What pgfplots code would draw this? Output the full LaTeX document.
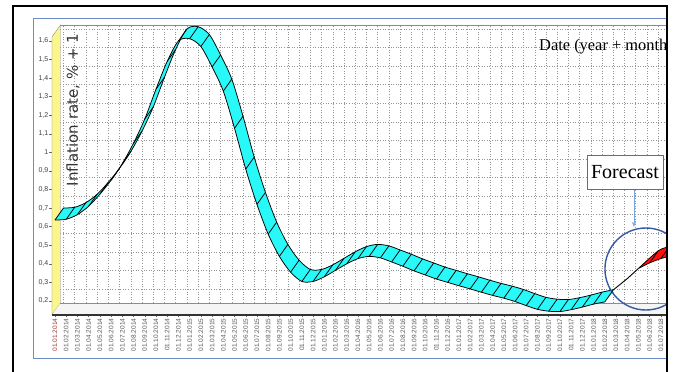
\documentclass[border=0pt]{standalone}
\usepackage{pgfplots}
\pgfplotsset{compat=1.18}
\usepackage{pgfplotstable}
\usetikzlibrary{arrows.meta}
\usepackage{fontspec}
\setmainfont{Liberation Serif}
\newfontfamily\dejavu{DejaVu Sans}
\newfontfamily\arial{Liberation Sans}
\definecolor{ribcyan}{RGB}{40,248,248}
\definecolor{ribred}{RGB}{255,16,16}
\definecolor{wallyellow}{RGB}{250,245,140}
\definecolor{frameblue}{RGB}{110,140,200}
\definecolor{circblue}{RGB}{55,90,165}
\definecolor{arrblue}{RGB}{120,165,220}
\definecolor{boxblue}{RGB}{80,110,170}
\definecolor{firstlab}{RGB}{150,60,50}

% depth segment of the 3D ribbon, drawn at each data point
\pgfdeclareplotmark{depthline}{%
  \pgfpathmoveto{\pgfqpoint{0pt}{0pt}}%
  \pgfpathlineto{\pgfqpoint{8.5pt}{12pt}}%
  \pgfusepathqstroke}

% ribbon: rows 0-49 front edge (month, value), rows 50-99 back edge (reversed)
\pgfplotstableread{
x y
0 0.636
1 0.640
2 0.665
3 0.710
4 0.775
5 0.850
6 0.940
7 1.050
8 1.180
9 1.340
10 1.490
11 1.600
12 1.612
13 1.570
14 1.460
15 1.330
16 1.130
17 0.910
18 0.720
19 0.560
20 0.440
21 0.355
22 0.305
23 0.305
24 0.330
25 0.365
26 0.400
27 0.428
28 0.440
29 0.432
30 0.410
31 0.387
32 0.362
33 0.340
34 0.318
35 0.300
36 0.282
37 0.265
38 0.247
39 0.230
40 0.215
41 0.197
42 0.175
43 0.155
44 0.145
45 0.143
46 0.153
47 0.167
48 0.183
49 0.195
49.7576 0.2596
48.7576 0.2476
47.7576 0.2316
46.7576 0.2176
45.7576 0.2076
44.7576 0.2096
43.7576 0.2196
42.7576 0.2396
41.7576 0.2616
40.7576 0.2796
39.7576 0.2946
38.7576 0.3116
37.7576 0.3296
36.7576 0.3466
35.7576 0.3646
34.7576 0.3826
33.7576 0.4046
32.7576 0.4266
31.7576 0.4516
30.7576 0.4746
29.7576 0.4966
28.7576 0.5046
27.7576 0.4926
26.7576 0.4646
25.7576 0.4296
24.7576 0.3946
23.7576 0.3696
22.7576 0.3696
21.7576 0.4196
20.7576 0.5046
19.7576 0.6246
18.7576 0.7846
17.7576 0.9746
16.7576 1.1946
15.7576 1.3946
14.7576 1.5246
13.7576 1.6346
12.7576 1.6766
11.7576 1.6646
10.7576 1.5546
9.7576 1.4046
8.7576 1.2446
7.7576 1.1146
6.7576 1.0046
5.7576 0.9146
4.7576 0.8396
3.7576 0.7746
2.7576 0.7296
1.7576 0.7046
0.7576 0.7006
}\ribbon

% forecast: rows 0-3 front edge, rows 4-7 back edge (reversed, starting at the fork)
\pgfplotstableread{
x y
52 0.375
53 0.405
54 0.428
55 0.445
55.7576 0.5096
54.7576 0.4926
53.7576 0.4696
52 0.375
}\forecast

\begin{document}
\begin{tikzpicture}
\fill[white] (-55pt,-33.9pt) rectangle (623pt,338.1pt);
% back wall grid
\begin{axis}[at={(5.47pt,35.10pt)}, anchor=south west,
  x=11.22pt, y=185.7pt,
  xmin=-0.27, xmax=53.79, ymin=0.1244, ymax=1.6214,
  xtick={0,...,54}, ytick={0.2,0.3,0.4,0.5,0.6,0.7,0.8,0.9,1.0,1.1,1.2,1.3,1.4,1.5,1.6},
  xticklabels={}, yticklabels={}, major tick length=0pt,
  axis line style={draw=none}, grid=major,
  grid style={black!42, line width=0.45pt, dash pattern=on 1pt off 1.6pt}]
\end{axis}
% main axis
\begin{axis}[at={(-3.03pt,23.10pt)}, anchor=south west,
  x=11.22pt, y=185.7pt,
  xmin=-0.27, xmax=54.545, ymin=0.1244, ymax=1.686,
  axis line style={draw=none},
  xtick pos=bottom, ytick pos=left,
  xtick={0,...,54},
  xticklabels={{\textcolor{firstlab}{01.01.2014}},01.02.2014,01.03.2014,01.04.2014,01.05.2014,01.06.2014,01.07.2014,01.08.2014,01.09.2014,01.10.2014,01.11.2014,01.12.2014,
    01.01.2015,01.02.2015,01.03.2015,01.04.2015,01.05.2015,01.06.2015,01.07.2015,01.08.2015,01.09.2015,01.10.2015,01.11.2015,01.12.2015,
    01.01.2016,01.02.2016,01.03.2016,01.04.2016,01.05.2016,01.06.2016,01.07.2016,01.08.2016,01.09.2016,01.10.2016,01.11.2016,01.12.2016,
    01.01.2017,01.02.2017,01.03.2017,01.04.2017,01.05.2017,01.06.2017,01.07.2017,01.08.2017,01.09.2017,01.10.2017,01.11.2017,01.12.2017,
    01.01.2018,01.02.2018,01.03.2018,01.04.2018,01.05.2018,01.06.2018,01.07.2018},
  ytick={0.2,0.3,0.4,0.5,0.6,0.7,0.8,0.9,1.0,1.1,1.2,1.3,1.4,1.5,1.6},
  yticklabels={{0,2},{0,3},{0,4},{0,5},{0,6},{0,7},{0,8},{0,9},{1},{1,1},{1,2},{1,3},{1,4},{1,5},{1,6}},
  tick align=outside, major tick length=2.5pt,
  tick style={black!60, line width=0.4pt},
  xticklabel style={rotate=90, anchor=east, font=\arial\fontsize{6.5}{7}\selectfont, text=black!65, inner sep=1pt},
  yticklabel style={font=\arial\fontsize{7}{8}\selectfont, text=black!75, inner sep=1pt},
  clip=false]
% left wall
\addplot[fill=wallyellow, draw=black!45, line width=0.4pt]
  coordinates {(-0.27,0.1244) (-0.27,1.6214) (0.4876,1.686) (0.4876,0.189) (-0.27,0.1244)};
% floor
\addplot[fill=black!4, draw=none]
  coordinates {(-0.27,0.1244) (0.4876,0.189) (54.8,0.189) (54.8,0.1244)};
\addplot[black!45, line width=0.8pt] coordinates {(0.4876,0.189) (54.8,0.189)};
\addplot[black!80, line width=1.6pt] coordinates {(-0.27,0.1244) (54.8,0.1244)};
% top edge of back wall
\addplot[black!45, line width=1.2pt] coordinates {(0.4876,1.682) (54.8,1.682)};
% cyan ribbon
\addplot[fill=ribcyan, draw=none, smooth, tension=0.5] table[x=x,y=y]{\ribbon};
\addplot[black, line width=0.75pt, smooth, tension=0.5, skip coords between index={50}{100}] table[x=x,y=y]{\ribbon};
\addplot[black, line width=0.75pt, smooth, tension=0.5, skip coords between index={0}{50}] table[x=x,y=y]{\ribbon};
\addplot[draw=none, mark=depthline, mark options={draw=black, line width=0.75pt}, skip coords between index={50}{100}] table[x=x,y=y]{\ribbon};
% forecast link
\addplot[black, line width=0.9pt] coordinates {(49.7576,0.2596) (51,0.32) (52,0.375)};
% red forecast ribbon
\addplot[fill=ribred, draw=none, smooth, tension=0.5] table[x=x,y=y]{\forecast};
\addplot[black, line width=0.75pt, smooth, tension=0.5, skip coords between index={4}{8}] table[x=x,y=y]{\forecast};
\addplot[black, line width=0.75pt, smooth, tension=0.5, skip coords between index={0}{4}] table[x=x,y=y]{\forecast};
\addplot[draw=none, mark=depthline, mark options={draw=black, line width=0.75pt}, skip coords between index={0}{1}, skip coords between index={3}{8}] table[x=x,y=y]{\forecast};
% annotations
\draw[circblue, line width=1.4pt] (axis cs:52.67,0.3721) circle[radius=41pt];
\draw[arrblue, line width=0.8pt, -{Stealth[length=5pt,width=4pt]}] (axis cs:51.6,0.803) -- (axis cs:51.6,0.599);
\node[draw=boxblue, line width=0.8pt, fill=white, minimum width=76pt, minimum height=34pt, inner sep=2pt,
  font=\fontsize{20}{22}\selectfont] at (axis cs:50.8,0.8944) {Forecast};
\node[anchor=west, inner sep=0pt, font=\fontsize{16.4}{18}\selectfont] at (axis cs:43.14,1.5676) {Date (year + month)};
\node[rotate=90, inner sep=0pt, font=\dejavu\fontsize{15}{18}\selectfont, text=black!80] at (axis cs:1.604,1.228) {Inflation rate, \% + 1};
\end{axis}
% frames
\draw[frameblue, line width=0.7pt] (640pt,320.1pt) -- (-22pt,320.1pt) -- (-22pt,-19.9pt) -- (640pt,-19.9pt);
\fill[white] (612.5pt,-40pt) rectangle (650pt,345pt);
\draw[black, line width=1.6pt] (-42pt,-40pt) -- (-42pt,332.1pt) -- (612pt,332.1pt) -- (612pt,-40pt);
% the picture is exactly the reference's frame
\pgfresetboundingbox
\path[use as bounding box] (-55pt,-33.9pt) rectangle (623pt,338.1pt);
\end{tikzpicture}
\end{document}
